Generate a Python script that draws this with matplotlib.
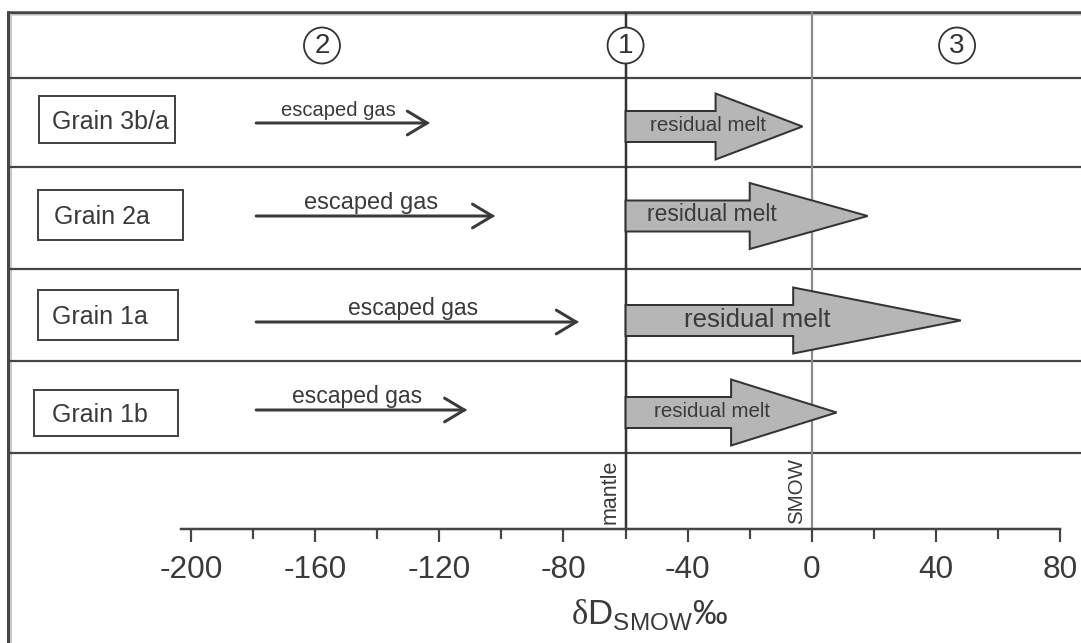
import matplotlib
matplotlib.use("Agg")
import matplotlib.pyplot as plt
from matplotlib.patches import Polygon, Rectangle, Ellipse

plt.rcParams['font.family'] = ['Liberation Sans', 'DejaVu Sans']
plt.rcParams['axes.unicode_minus'] = False
plt.rcParams['mathtext.fontset'] = 'custom'
plt.rcParams['mathtext.rm'] = 'Liberation Sans'
plt.rcParams['mathtext.tt'] = 'Liberation Serif'

# ---------------- data (δD_SMOW, ‰) ----------------
samples = ['Grain 3b/a', 'Grain 2a', 'Grain 1a', 'Grain 1b']
gas_start = [-179, -179, -179, -179]
gas_end = [-123, -102, -75, -111]
melt_start = [-60, -60, -60, -60]
melt_head_base = [-31, -20, -6, -26]
melt_tip = [-3, 18, 48, 8]
mantle_dD = -60
smow_dD = 0
major_ticks = [-200, -160, -120, -80, -40, 0, 40, 80]
minor_ticks = [-180, -140, -100, -60, -20, 20, 60]
tick_labels = [str(v) for v in major_ticks]
zone_labels = ['1', '2', '3']
zone_pos = [-60, -157.8, 46.8]

# ---------------- layout (pixels) ----------------
W, H, DPI = 1081, 643, 100
X0_PX, PXU = 191, 3.104      # pixel of -200, pixels per ‰
AX_PX = 529                  # axis line row
PT = 72 / DPI                # points per pixel

def px2x(px):
    return (px - X0_PX) / PXU - 200

row_lines = [78, 167, 269, 361, 453]
box_px = [(39, 96, 175, 143), (38, 190, 183, 240), (38, 290, 178, 340), (34, 390, 178, 436)]
label_x_px = [52, 54, 52, 52]
label_fs = [18, 18, 18, 18]
gas_y = [123, 216, 322, 410]
gas_fs = [14.5, 17, 16.5, 16.5]
melt_y = [126.5, 216, 320.5, 412.5]
melt_txt_px = [708, 712, 757, 712]
melt_fs = [14.8, 16.5, 18.6, 14.8]
SHAFT, HEAD = 31, 66

dark = '#3a3a3a'
line_c = '#454545'
fill_c = '#b6b6b6'

fig = plt.figure(figsize=(W / DPI, H / DPI), dpi=DPI)
ax = fig.add_axes([0, (H - AX_PX) / H, 1, AX_PX / H])
ax.set_xlim(px2x(0), px2x(W))
ax.set_ylim(AX_PX, 0)
for s in ['top', 'left', 'right']:
    ax.spines[s].set_visible(False)
ax.spines['bottom'].set_bounds(px2x(181), 80)
ax.spines['bottom'].set_linewidth(2.5 * PT)
ax.spines['bottom'].set_color(line_c)
ax.set_yticks([])
ax.set_xticks(major_ticks)
ax.set_xticklabels(tick_labels)
ax.set_xticks(minor_ticks, minor=True)
ax.tick_params(axis='x', which='major', length=13 * PT, width=2.2 * PT, color=line_c,
               labelsize=22.8, labelcolor=dark, pad=9)
ax.tick_params(axis='x', which='minor', length=10 * PT, width=2.2 * PT, color=line_c)

# frame
ax.plot([px2x(7), px2x(W)], [12.5, 12.5], color=line_c, lw=3.5 * PT, clip_on=False, solid_capstyle='butt')
ax.plot([px2x(7), px2x(W)], [15, 15], color='#d0d0d0', lw=1.5 * PT, clip_on=False, solid_capstyle='butt')
ax.plot([px2x(8.3)] * 2, [11, H], color=line_c, lw=3 * PT, clip_on=False, solid_capstyle='butt')
ax.plot([px2x(10.8)] * 2, [14, H], color='#c8c8c8', lw=2 * PT, clip_on=False, solid_capstyle='butt')

# row lines
ax.hlines(row_lines, px2x(9.5), px2x(W), color=line_c, lw=2.2 * PT)

# mantle & SMOW lines
ax.plot([mantle_dD, mantle_dD], [13, AX_PX], color='#333333', lw=2.5 * PT, zorder=2)
ax.plot([smow_dD, smow_dD], [13, AX_PX], color='#8c8c8c', lw=2.2 * PT, zorder=2)
ax.text(mantle_dD - 5 / PXU, 524, 'mantle', rotation=90, ha='right', va='bottom',
        fontsize=15.5, color=dark)
ax.text(smow_dD - 6 / PXU, 524, 'SMOW', rotation=90, ha='right', va='bottom',
        fontsize=14.8, color=dark)

# zone circles
for lab, xz in zip(zone_labels, zone_pos):
    ax.add_patch(Ellipse((xz, 45.5), width=36 / PXU, height=36, facecolor='white',
                         edgecolor='#333333', lw=1.8 * PT, zorder=4))
    ax.text(xz, 46, lab, ha='center', va='center', fontsize=20, color='#333333', zorder=5)

# sample rows
for i, name in enumerate(samples):
    x0, y0, x1, y1 = box_px[i]
    ax.add_patch(Rectangle((px2x(x0), y0), (x1 - x0) / PXU, y1 - y0, facecolor='white',
                           edgecolor=line_c, lw=2 * PT, zorder=3))
    ax.text(px2x(label_x_px[i]), (y0 + y1) / 2, name, ha='left', va='center_baseline',
            fontsize=label_fs[i], color=dark, zorder=4)

    # escaped gas arrow
    ax.annotate('', xy=(gas_end[i], gas_y[i]), xytext=(gas_start[i], gas_y[i]),
                arrowprops=dict(arrowstyle='->,head_length=0.75,head_width=0.45',
                                lw=3 * PT, color=dark, shrinkA=0, shrinkB=0,
                                mutation_scale=19, joinstyle='miter'))
    ax.text((gas_start[i] + gas_end[i]) / 2 - 1.5, gas_y[i] - 7, 'escaped gas',
            ha='center', va='baseline', fontsize=gas_fs[i], color=dark)

    # residual melt block arrow
    yc = melt_y[i]
    xs, xb, xt = melt_start[i], melt_head_base[i], melt_tip[i]
    pts = [(xs, yc - SHAFT / 2), (xb, yc - SHAFT / 2), (xb, yc - HEAD / 2), (xt, yc),
           (xb, yc + HEAD / 2), (xb, yc + SHAFT / 2), (xs, yc + SHAFT / 2)]
    ax.add_patch(Polygon(pts, closed=True, facecolor=fill_c, edgecolor='#333333',
                         lw=2 * PT, zorder=3, joinstyle='miter'))
    em = melt_fs[i] / PT
    ax.text(px2x(melt_txt_px[i]), yc - 3 + 0.36 * em, 'residual melt', ha='center',
            va='baseline', fontsize=melt_fs[i], color=dark, zorder=4)

# axis title
ax.text(px2x(649), 615, r'$\mathtt{δ}\mathrm{D}_{\mathrm{SMOW}}$‰', ha='center', va='center',
        fontsize=25, color=dark, clip_on=False)

fig.savefig('out.png', dpi=DPI)
